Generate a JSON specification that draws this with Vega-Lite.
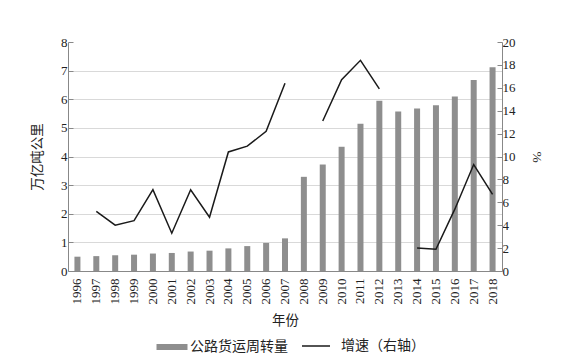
{
  "$schema": "https://vega.github.io/schema/vega-lite/v6.json",
  "width": 434,
  "height": 229,
  "autosize": "none",
  "padding": {"left": 68, "top": 42, "right": 78, "bottom": 92},
  "config": {
    "view": {"stroke": null},
    "font": "Liberation Serif, Times New Roman, serif",
    "axis": {
      "labelFont": "Liberation Serif, Times New Roman, serif",
      "labelFontSize": 13,
      "labelColor": "#222222",
      "titleFont": "Noto Sans CJK SC",
      "titleFontWeight": "normal",
      "titleFontSize": 13.5,
      "titleColor": "#222222",
      "domainColor": "#888888",
      "tickColor": "#888888",
      "gridColor": "#d9d9d9"
    },
    "legend": {
      "labelFont": "Noto Sans CJK SC",
      "labelFontSize": 14,
      "labelColor": "#222222"
    }
  },
  "data": {
    "values": [
      {"year": "1996", "volume": 0.50, "growth": null},
      {"year": "1997", "volume": 0.52, "growth": 5.2},
      {"year": "1998", "volume": 0.55, "growth": 4.0},
      {"year": "1999", "volume": 0.57, "growth": 4.4},
      {"year": "2000", "volume": 0.61, "growth": 7.1},
      {"year": "2001", "volume": 0.63, "growth": 3.3},
      {"year": "2002", "volume": 0.68, "growth": 7.1},
      {"year": "2003", "volume": 0.71, "growth": 4.7},
      {"year": "2004", "volume": 0.79, "growth": 10.4},
      {"year": "2005", "volume": 0.87, "growth": 10.9},
      {"year": "2006", "volume": 0.98, "growth": 12.2},
      {"year": "2007", "volume": 1.14, "growth": 16.4},
      {"year": "2008", "volume": 3.29, "growth": null},
      {"year": "2009", "volume": 3.72, "growth": 13.1},
      {"year": "2010", "volume": 4.34, "growth": 16.7},
      {"year": "2011", "volume": 5.14, "growth": 18.4},
      {"year": "2012", "volume": 5.95, "growth": 15.9},
      {"year": "2013", "volume": 5.57, "growth": null},
      {"year": "2014", "volume": 5.68, "growth": 2.0},
      {"year": "2015", "volume": 5.79, "growth": 1.9},
      {"year": "2016", "volume": 6.10, "growth": 5.4},
      {"year": "2017", "volume": 6.67, "growth": 9.3},
      {"year": "2018", "volume": 7.12, "growth": 6.7}
    ]
  },
  "encoding": {
    "x": {
      "field": "year",
      "type": "ordinal",
      "scale": {"paddingInner": 0, "paddingOuter": 0},
      "axis": {
        "title": "年份",
        "labelAngle": -90,
        "labelFontSize": 13,
        "ticks": false,
        "labelPadding": 7,
        "titlePadding": 9,
        "grid": false
      }
    }
  },
  "layer": [
    {
      "mark": {"type": "bar", "width": 6},
      "encoding": {
        "y": {
          "field": "volume",
          "type": "quantitative",
          "scale": {"domain": [0, 8]},
          "axis": {
            "title": "万亿吨公里",
            "tickCount": 8,
            "grid": true,
            "gridOpacity": {"condition": {"test": "datum.value === 0 || datum.value === 8", "value": 0}, "value": 1},
            "tickSize": -5,
            "labelPadding": 6,
            "titlePadding": 16
          }
        },
        "fill": {
          "datum": "公路货运周转量",
          "type": "nominal",
          "scale": {"range": ["#8e8e8e"]},
          "legend": {
            "title": null,
            "orient": "none",
            "legendX": 94,
            "legendY": 295,
            "symbolType": "M-1.55,-0.3H1.55V0.3H-1.55Z",
            "symbolSize": 400,
            "symbolStrokeWidth": 0,
            "labelOffset": 8
          }
        }
      }
    },
    {
      "mark": {"type": "line", "strokeWidth": 1.5, "invalid": "break-paths-show-domains"},
      "encoding": {
        "y": {
          "field": "growth",
          "type": "quantitative",
          "scale": {"domain": [0, 20]},
          "axis": {
            "title": "%",
            "titleAngle": 90,
            "titleFont": "Liberation Serif, Times New Roman, serif",
            "orient": "right",
            "tickCount": 10,
            "grid": false,
            "tickSize": -5,
            "labelPadding": 5,
            "titlePadding": 14
          }
        },
        "stroke": {
          "datum": "增速（右轴）",
          "type": "nominal",
          "scale": {"range": ["#1a1a1a"]},
          "legend": {
            "title": null,
            "orient": "none",
            "legendX": 233,
            "legendY": 289,
            "symbolType": "stroke",
            "symbolSize": 784,
            "symbolStrokeWidth": 1.5,
            "labelOffset": 10
          }
        }
      }
    }
  ],
  "resolve": {"scale": {"y": "independent"}}
}
